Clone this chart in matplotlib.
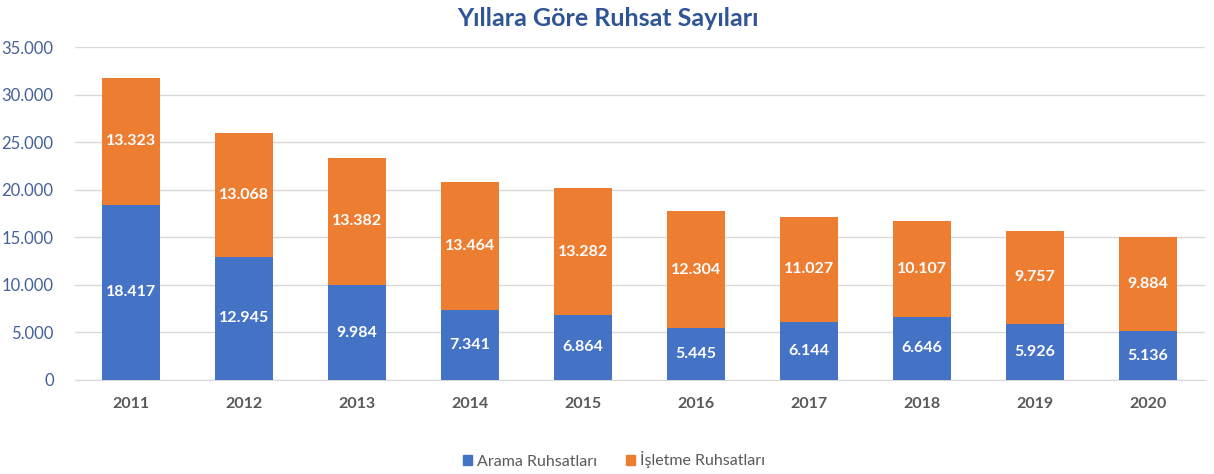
import matplotlib
matplotlib.use("Agg")
import matplotlib.pyplot as plt
from matplotlib.patches import Patch

plt.rcParams['font.family'] = ['Lato', 'DejaVu Sans']

years = ['2011', '2012', '2013', '2014', '2015', '2016', '2017', '2018', '2019', '2020']
arama = [18417, 12945, 9984, 7341, 6864, 5445, 6144, 6646, 5926, 5136]
isletme = [13323, 13068, 13382, 13464, 13282, 12304, 11027, 10107, 9757, 9884]
series_names = ['Arama Ruhsatları', 'İşletme Ruhsatları']
title = 'Yıllara Göre Ruhsat Sayıları'

blue = '#4472C4'
orange = '#ED7D31'


def fmt(v):
    return f'{v:,}'.replace(',', '.')


fig = plt.figure(figsize=(12.14, 4.74), dpi=100)
ax = fig.add_axes([74.5 / 1214, 1 - 380 / 474, (1204.5 - 74.5) / 1214, (380 - 47) / 474])

x = list(range(len(years)))
w = 0.515
ax.bar(x, arama, width=w, color=blue, zorder=3)
ax.bar(x, isletme, width=w, bottom=arama, color=orange, zorder=3)

for i in x:
    ax.text(i, arama[i] / 2, fmt(arama[i]), ha='center', va='center',
            color='white', fontsize=11.5, fontweight='bold', zorder=4)
    ax.text(i, arama[i] + isletme[i] / 2, fmt(isletme[i]), ha='center', va='center',
            color='white', fontsize=11.5, fontweight='bold', zorder=4)

ax.set_xlim(-0.5, len(years) - 0.5)
ax.set_ylim(0, 35000)
ax.set_yticks(range(0, 35001, 5000))
ax.set_yticklabels([fmt(v) for v in range(0, 35001, 5000)], color='#44609A', fontsize=12)
ax.set_xticks(x)
ax.set_xticklabels(years, color='#595959', fontsize=11.5, fontweight='bold')
ax.tick_params(axis='both', length=0)
ax.tick_params(axis='x', pad=12)
ax.tick_params(axis='y', pad=15)
ax.grid(axis='y', color='#D9D9D9', linewidth=1, zorder=0)
for s in ['top', 'right', 'left']:
    ax.spines[s].set_visible(False)
ax.spines['bottom'].set_color('#D9D9D9')

fig.text(608 / 1214, 1 - 19 / 474, title, ha='center', va='center',
         color='#2F5597', fontsize=18, fontweight='bold')

handles = [Patch(color=blue), Patch(color=orange)]
fig.legend(handles, series_names, loc='center', bbox_to_anchor=(614 / 1214, 1 - 460 / 474),
           ncol=2, frameon=False, fontsize=11.5, handlelength=0.6, handleheight=0.6,
           handletextpad=0.3, columnspacing=1.8, labelcolor='#595959')

fig.savefig('out.png', dpi=100)
